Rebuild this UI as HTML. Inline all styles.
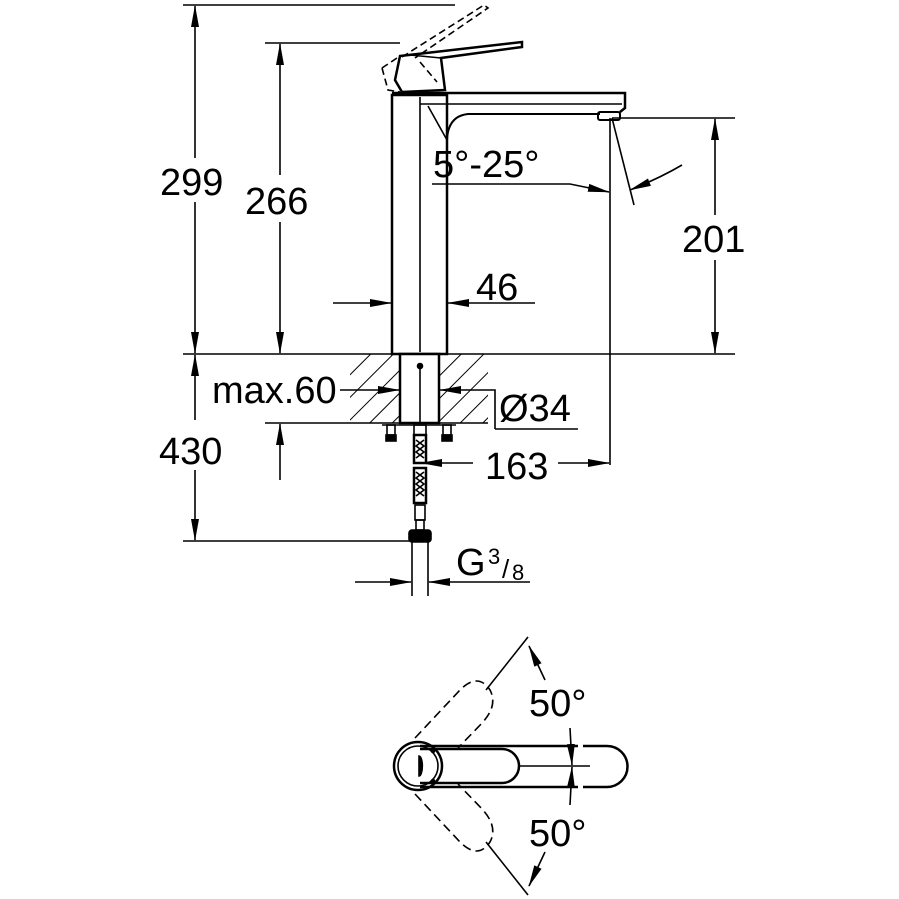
<!DOCTYPE html>
<html><head><meta charset="utf-8"><style>
html,body{margin:0;padding:0;background:#fff}
svg{display:block}
text{font-family:"Liberation Sans",Arial,sans-serif;fill:#000}
</style></head><body>
<svg width="899" height="899" viewBox="0 0 899 899" xmlns="http://www.w3.org/2000/svg">
<defs>
<marker id="a" markerWidth="22" markerHeight="10" refX="21" refY="5" orient="auto" markerUnits="userSpaceOnUse">
<path d="M0,1 L22,5 L0,9 Z" fill="#000"/></marker>
<pattern id="h" patternUnits="userSpaceOnUse" width="16" height="16" patternTransform="rotate(45)">
<line x1="0" y1="0" x2="0" y2="16" stroke="#000" stroke-width="2"/></pattern>
</defs>
<g stroke="#000" fill="none" stroke-width="1.6">
<line x1="183" y1="5" x2="455" y2="5"/>
<line x1="265" y1="43" x2="400" y2="43"/>
<line x1="183" y1="354" x2="735" y2="354"/>
<line x1="612" y1="118" x2="735" y2="118"/>
<line x1="195" y1="158" x2="195" y2="6" marker-end="url(#a)"/>
<line x1="195" y1="202" x2="195" y2="353" marker-end="url(#a)"/>
<line x1="280" y1="175" x2="280" y2="44" marker-end="url(#a)"/>
<line x1="280" y1="222" x2="280" y2="353" marker-end="url(#a)"/>
<line x1="715" y1="215" x2="715" y2="119" marker-end="url(#a)"/>
<line x1="715" y1="260" x2="715" y2="353" marker-end="url(#a)"/>
<line x1="333" y1="303" x2="391" y2="303" marker-end="url(#a)"/>
<line x1="535" y1="303" x2="448" y2="303" marker-end="url(#a)"/>
<polyline points="432,184 570,184 609,192" marker-end="url(#a)"/>
<line x1="610" y1="118" x2="610" y2="465"/>
<line x1="612" y1="118" x2="634" y2="205"/>
<path d="M682,165 Q660,178 630,190" marker-end="url(#a)"/>
<rect x="392" y="95" width="55" height="259" stroke-width="2.5"/>
<line x1="420" y1="97" x2="420" y2="352"/>
<path d="M392,93 L625,93 L625,108 L620,112" stroke-width="2.5"/>
<line x1="420" y1="104" x2="622" y2="104"/>
<path d="M600,114 L468,114 Q448,116 447,140" stroke-width="2"/>
<line x1="428" y1="106" x2="447" y2="140"/>
<rect x="598" y="112" width="22" height="8" rx="2" stroke-width="2"/>
<path d="M400,56 L522,42 L522,47 L441,58 L445,90 L402,92 L395,80 Z" stroke-width="2.5"/>
<line x1="410" y1="55" x2="441" y2="58"/>
<path d="M402,57 L484,5 L488,8 L415,58 M382,68 L400,56 M382,68 L388,90 L400,92 M420,62 L437,82" stroke-dasharray="7,4"/>
<rect x="350" y="354" width="50" height="69" fill="url(#h)" stroke="none"/>
<rect x="440" y="354" width="48" height="69" fill="url(#h)" stroke="none"/>
<line x1="350" y1="423" x2="488" y2="423"/>
<rect x="400" y="354" width="39" height="69" fill="#fff" stroke-width="2.5"/>
<line x1="420" y1="368" x2="420" y2="423"/>
<circle cx="420" cy="366" r="2.5" fill="#000"/>
<line x1="382" y1="425" x2="456" y2="425"/>
<rect x="387" y="425" width="8" height="10"/><rect x="443" y="425" width="8" height="10"/>
<rect x="386" y="435" width="10" height="6" fill="#000"/><rect x="442" y="435" width="10" height="6" fill="#000"/>
<rect x="414" y="425" width="12" height="10"/>
<rect x="414" y="435" width="12" height="28" stroke-width="2.5"/>
<path d="M416,440 l8,6 l-8,6 l8,6 M424,440 l-8,6 l8,6 l-8,6"/>
<rect x="414" y="468" width="12" height="35" stroke-width="2.5"/>
<path d="M416,472 l8,6 l-8,6 l8,6 l-8,6 M424,472 l-8,6 l8,6 l-8,6 l8,6"/>
<rect x="415" y="505" width="10" height="15"/>
<rect x="416" y="520" width="8" height="10"/>
<rect x="409" y="530" width="22" height="12" rx="3" fill="#000"/>
<line x1="412" y1="542" x2="412" y2="596"/><line x1="428" y1="542" x2="428" y2="596"/>
<line x1="183" y1="541" x2="410" y2="541"/>
<line x1="265" y1="423" x2="350" y2="423"/>
<line x1="195" y1="420" x2="195" y2="355" marker-end="url(#a)"/>
<line x1="195" y1="470" x2="195" y2="540" marker-end="url(#a)"/>
<line x1="280" y1="480" x2="280" y2="424" marker-end="url(#a)"/>
<line x1="340" y1="390" x2="399" y2="390" marker-end="url(#a)"/>
<polyline points="495,429 495,390 440,390" marker-end="url(#a)"/>
<line x1="495" y1="429" x2="578" y2="429"/>
<line x1="473" y1="463" x2="421" y2="463" marker-end="url(#a)"/>
<line x1="558" y1="463" x2="609" y2="463" marker-end="url(#a)"/>
<line x1="355" y1="582" x2="411" y2="582" marker-end="url(#a)"/>
<line x1="530" y1="582" x2="429" y2="582" marker-end="url(#a)"/>
<circle cx="418" cy="766" r="24" stroke-width="2.5"/>
<circle cx="418" cy="766" r="20"/>
<path d="M420,746 L578,746 M578,787 L420,787" stroke-width="2.5"/>
<path d="M583,746 L607,746 A20.5,20.5 0 0 1 607,787 L583,787" stroke-width="2.5"/>
<path d="M420,749 L502,749 A17,17 0 0 1 502,783 L420,783" stroke-width="2.5"/>
<line x1="520" y1="766" x2="590" y2="766"/>
<path d="M419,756 a3,9 0 0 1 0,20 Z" fill="#000"/>
<circle cx="433" cy="751" r="1.5" fill="#000"/><circle cx="433" cy="781" r="1.5" fill="#000"/>
<path d="M415,738 L460,690 Q478,672 490,690 Q498,705 483,722 L458,748" stroke-dasharray="9,5"/>
<path d="M415,794 L460,842 Q478,860 490,842 Q498,827 483,810 L458,784" stroke-dasharray="9,5"/>
<line x1="486" y1="690" x2="528" y2="637"/>
<line x1="486" y1="842" x2="528" y2="895"/>
<path d="M545,680 L529,646" marker-end="url(#a)"/>
<path d="M545,852 L529,886" marker-end="url(#a)"/>
<path d="M570,728 L572,765" marker-end="url(#a)"/>
<path d="M570,805 L572,767" marker-end="url(#a)"/>
</g>
<g font-size="38">
<text x="160" y="195">299</text>
<text x="245" y="214">266</text>
<text x="682" y="252">201</text>
<text x="476" y="300">46</text>
<text x="433" y="177">5°-25°</text>
<text x="212" y="403">max.60</text>
<text x="499" y="421">Ø34</text>
<text x="159" y="464">430</text>
<text x="485" y="479">163</text>
<text x="456" y="575">G</text>
<text x="529" y="716">50°</text>
<text x="529" y="846">50°</text>
</g>
<text x="488" y="564" font-size="22">3</text>
<text x="502" y="578" font-size="26">/</text>
<text x="512" y="580" font-size="22">8</text>
</svg>
</body></html>
